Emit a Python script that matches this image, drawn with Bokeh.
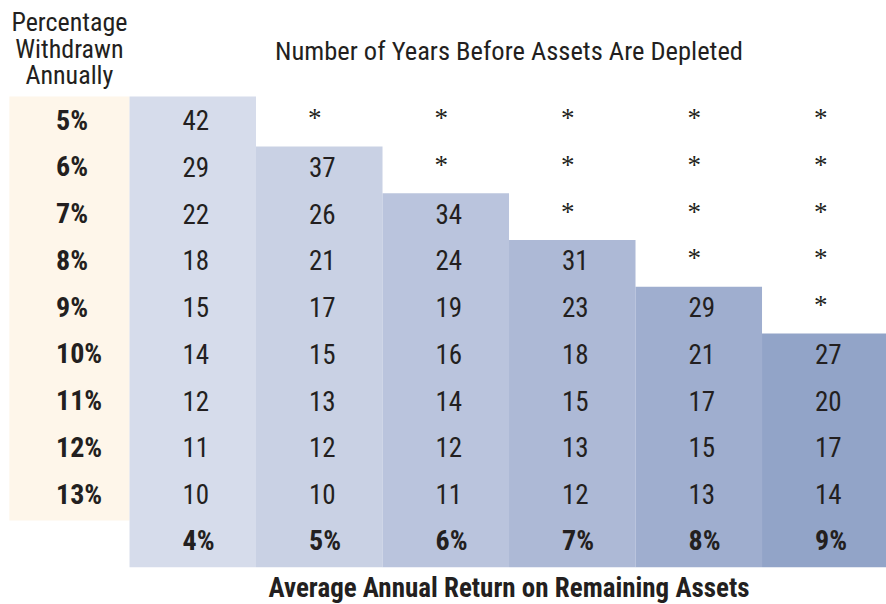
from bokeh.plotting import figure
from bokeh.models import Range1d, Label
from bokeh.core.properties import value
from bokeh.embed import file_html
from bokeh.resources import INLINE

# ---- data ----
withdrawn = ["5%", "6%", "7%", "8%", "9%", "10%", "11%", "12%", "13%"]
returns = ["4%", "5%", "6%", "7%", "8%", "9%"]
# years before depletion, per return column (None = "*", assets never depleted)
years_4 = [42, 29, 22, 18, 15, 14, 12, 11, 10]
years_5 = [None, 37, 26, 21, 17, 15, 13, 12, 10]
years_6 = [None, None, 34, 24, 19, 16, 14, 12, 11]
years_7 = [None, None, None, 31, 23, 18, 15, 13, 12]
years_8 = [None, None, None, None, 29, 21, 17, 15, 13]
years_9 = [None, None, None, None, None, 27, 20, 17, 14]
years = [years_4, years_5, years_6, years_7, years_8, years_9]

title_top = "Number of Years Before Assets Are Depleted"
title_bottom = "Average Annual Return on Remaining Assets"
row_header = ["Percentage", "Withdrawn", "Annually"]

# ---- style ----
FONT = "Roboto Condensed, Liberation Sans Narrow, DejaVu Sans Condensed, Roboto, sans-serif"
SERIF = "Liberation Serif"
INK = "#231F20"
CREAM = "#FEF6EA"
COL_COLORS = ["#D6DCEB", "#C9D1E4", "#BAC4DD", "#ADB9D6", "#9FAECF", "#92A4C8"]
TOP_PAD = 0.07
TXT_DX = 53
TXT_DY = -3

n_rows = len(withdrawn)
label_row = n_rows  # row index for return labels

p = figure(width=886, height=604,
           x_range=Range1d(-0.5198, 6.484), y_range=Range1d(10.297, -2.6225),
           output_backend="svg", toolbar_location=None, min_border=0)
p.axis.visible = False
p.grid.visible = False
p.outline_line_color = None
p.background_fill_color = "white"
p.border_fill_color = "white"

# cream column behind withdrawal labels
p.quad(left=[-0.45], right=[0.5], top=[-0.5 - TOP_PAD], bottom=[n_rows - 0.5],
       fill_color=CREAM, line_color=None)

# shaded return columns (start at first depleting row)
lefts, rights, tops, bottoms, colors = [], [], [], [], []
for j, col in enumerate(years):
    first = next(i for i, v in enumerate(col) if v is not None)
    lefts.append(j + 0.5)
    rights.append(j + 1.5)
    tops.append(first - 0.5 - (TOP_PAD if first == 0 else 0))
    bottoms.append(label_row + 0.5)
    colors.append(COL_COLORS[j])
p.quad(left=lefts, right=rights, top=tops, bottom=bottoms,
       fill_color=colors, line_color=None)

# values
num_x, num_y, num_t = [], [], []
star_x, star_y = [], []
for j, col in enumerate(years):
    for i, v in enumerate(col):
        if v is None:
            star_x.append(j + 0.5)
            star_y.append(i)
        else:
            num_x.append(j + 0.5)
            num_y.append(i)
            num_t.append(str(v))

p.text(x=num_x, y=num_y, text=num_t, text_font=value(FONT), text_font_size="27px",
       text_color=INK, text_align="left", text_baseline="middle",
       x_offset=TXT_DX, y_offset=TXT_DY)
p.text(x=star_x, y=star_y, text=["*"] * len(star_x), text_font=value(SERIF),
       text_font_size="27px", text_color=INK, text_align="left",
       text_baseline="middle", x_offset=TXT_DX - 1, y_offset=-5)

# withdrawal labels
p.text(x=[-0.5] * n_rows, y=list(range(n_rows)), text=withdrawn,
       text_font=value(FONT), text_font_size="28px", text_font_style="bold",
       text_color=INK, text_align="left", text_baseline="middle",
       x_offset=TXT_DX, y_offset=TXT_DY)

# return labels
p.text(x=[j + 0.5 for j in range(len(returns))], y=[label_row] * len(returns),
       text=returns, text_font=value(FONT), text_font_size="28px",
       text_font_style="bold", text_color=INK, text_align="left",
       text_baseline="middle", x_offset=TXT_DX, y_offset=TXT_DY)

# titles
p.add_layout(Label(x=3.5, y=-1.553, text=title_top, text_font=FONT,
                   text_font_size="26.5px", text_color=INK, text_align="center",
                   text_baseline="alphabetic"))
p.add_layout(Label(x=3.5, y=9.95, text=title_bottom, text_font=FONT,
                   text_font_size="27px", text_font_style="bold", text_color=INK,
                   text_align="center", text_baseline="alphabetic"))
for line, yy in zip(row_header, [-2.152, -1.585, -1.029]):
    p.add_layout(Label(x=0.025, y=yy, text=line, text_font=FONT,
                       text_font_size="26px", text_color=INK, text_align="center",
                       text_baseline="alphabetic"))

open("out.html", "w").write(file_html(p, INLINE))
